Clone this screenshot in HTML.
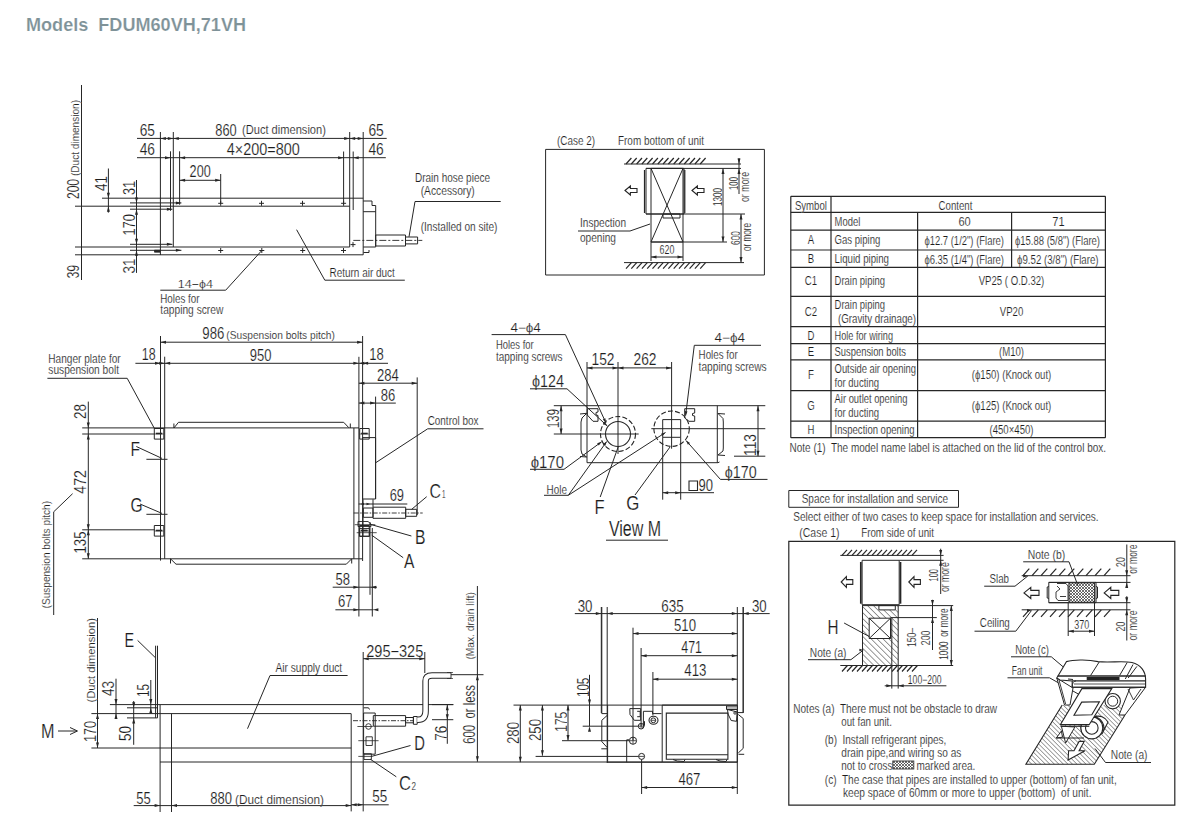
<!DOCTYPE html>
<html><head><meta charset="utf-8"><style>
html,body{margin:0;padding:0;background:#fff;}
body{width:1200px;height:829px;overflow:hidden;}
svg{display:block;font-family:"Liberation Sans",sans-serif;}
text{white-space:pre;}
</style></head><body>
<svg width="1200" height="829" viewBox="0 0 1200 829">
<g fill="none" stroke="#262626" stroke-width="1" stroke-linecap="butt">
<text stroke="#fff" stroke-width="0.15" x="26" y="30.5" font-size="17.8" font-weight="bold" fill="#7e9298" textLength="220" lengthAdjust="spacingAndGlyphs">Models  FDUM60VH,71VH</text>
<line x1="81.5" y1="85" x2="81.5" y2="280"/>
<text stroke="#fff" stroke-width="0.15" transform="translate(78.5,199) rotate(-90)" font-size="16" textLength="20" lengthAdjust="spacingAndGlyphs" fill="#1e1e1e">200</text>
<text stroke="#fff" stroke-width="0.15" transform="translate(79,176) rotate(-90)" font-size="11.5" textLength="76" lengthAdjust="spacingAndGlyphs" fill="#1e1e1e">(Duct dimension)</text>
<text stroke="#fff" stroke-width="0.15" transform="translate(78.5,278.6) rotate(-90)" font-size="16" textLength="13.9" lengthAdjust="spacingAndGlyphs" fill="#1e1e1e">39</text>
<line x1="102" y1="198.2" x2="363.2" y2="198.2"/>
<line x1="75" y1="206.2" x2="349.7" y2="206.2"/>
<line x1="75" y1="247" x2="349.7" y2="247"/>
<line x1="75" y1="254.8" x2="363.2" y2="254.8"/>
<line x1="130" y1="202.9" x2="181.4" y2="202.9"/>
<line x1="130" y1="209.2" x2="172.4" y2="209.2"/>
<line x1="130" y1="244.3" x2="172.4" y2="244.3"/>
<line x1="130" y1="250.3" x2="181.4" y2="250.3"/>
<polygon points="181.4,202.9 175.9,201.4 175.9,204.4" fill="#262626" stroke="none"/>
<polygon points="172.4,209.2 166.9,207.7 166.9,210.7" fill="#262626" stroke="none"/>
<polygon points="172.4,244.3 166.9,242.8 166.9,245.8" fill="#262626" stroke="none"/>
<polygon points="181.4,250.3 175.9,248.8 175.9,251.8" fill="#262626" stroke="none"/>
<line x1="137" y1="138.4" x2="386.7" y2="138.4"/>
<polygon points="160.4,138.4 165.9,136.9 165.9,139.9" fill="#262626" stroke="none"/>
<polygon points="173.3,138.4 178.8,136.9 178.8,139.9" fill="#262626" stroke="none"/>
<polygon points="173.3,138.4 167.8,136.9 167.8,139.9" fill="#262626" stroke="none"/>
<polygon points="349.7,138.4 344.2,136.9 344.2,139.9" fill="#262626" stroke="none"/>
<polygon points="349.7,138.4 355.2,136.9 355.2,139.9" fill="#262626" stroke="none"/>
<polygon points="363.2,138.4 357.7,136.9 357.7,139.9" fill="#262626" stroke="none"/>
<line x1="137" y1="157.7" x2="385.8" y2="157.7"/>
<polygon points="170.5,157.7 165,156.2 165,159.2" fill="#262626" stroke="none"/>
<polygon points="179.6,157.7 185.1,156.2 185.1,159.2" fill="#262626" stroke="none"/>
<polygon points="343.6,157.7 338.1,156.2 338.1,159.2" fill="#262626" stroke="none"/>
<polygon points="353.2,157.7 358.7,156.2 358.7,159.2" fill="#262626" stroke="none"/>
<line x1="179.6" y1="180.3" x2="220.7" y2="180.3"/>
<polygon points="179.6,180.3 185.1,178.8 185.1,181.8" fill="#262626" stroke="none"/>
<polygon points="220.7,180.3 215.2,178.8 215.2,181.8" fill="#262626" stroke="none"/>
<line x1="108.4" y1="168.5" x2="108.4" y2="212.6"/>
<polygon points="108.4,198.2 106.9,192.7 109.9,192.7" fill="#262626" stroke="none"/>
<polygon points="108.4,206.2 106.9,211.7 109.9,211.7" fill="#262626" stroke="none"/>
<line x1="136.5" y1="180" x2="136.5" y2="272.9"/>
<polygon points="136.5,202.9 135,197.4 138,197.4" fill="#262626" stroke="none"/>
<polygon points="136.5,209.2 135,214.7 138,214.7" fill="#262626" stroke="none"/>
<polygon points="136.5,244.3 135,238.8 138,238.8" fill="#262626" stroke="none"/>
<polygon points="136.5,250.3 135,255.8 138,255.8" fill="#262626" stroke="none"/>
<line x1="160.4" y1="132" x2="160.4" y2="255"/>
<line x1="173.3" y1="132" x2="173.3" y2="247"/>
<line x1="170.5" y1="151.3" x2="170.5" y2="210.8"/>
<line x1="179.6" y1="151.3" x2="179.6" y2="204.7"/>
<line x1="220.7" y1="174" x2="220.7" y2="203.3"/>
<line x1="343.6" y1="151.5" x2="343.6" y2="204.6"/>
<line x1="349.7" y1="132" x2="349.7" y2="247"/>
<line x1="353.2" y1="151.5" x2="353.2" y2="210"/>
<line x1="363.2" y1="132" x2="363.2" y2="254.8"/>
<line x1="218.2" y1="203.3" x2="223.2" y2="203.3"/>
<line x1="220.7" y1="200.8" x2="220.7" y2="205.8"/>
<line x1="259" y1="203.3" x2="264" y2="203.3"/>
<line x1="261.5" y1="200.8" x2="261.5" y2="205.8"/>
<line x1="300" y1="203.3" x2="305" y2="203.3"/>
<line x1="302.5" y1="200.8" x2="302.5" y2="205.8"/>
<line x1="341.1" y1="203.3" x2="346.1" y2="203.3"/>
<line x1="343.6" y1="200.8" x2="343.6" y2="205.8"/>
<line x1="218.2" y1="250.5" x2="223.2" y2="250.5"/>
<line x1="220.7" y1="248" x2="220.7" y2="253"/>
<line x1="259.3" y1="250.5" x2="264.3" y2="250.5"/>
<line x1="261.8" y1="248" x2="261.8" y2="253"/>
<line x1="300.2" y1="250.5" x2="305.2" y2="250.5"/>
<line x1="302.7" y1="248" x2="302.7" y2="253"/>
<line x1="341" y1="250.5" x2="346" y2="250.5"/>
<line x1="343.5" y1="248" x2="343.5" y2="253"/>
<line x1="350.5" y1="244.6" x2="355.5" y2="244.6"/>
<line x1="353" y1="242.1" x2="353" y2="247.1"/>
<polygon points="154.5,250.2 160,250.2 160,252.2 154.5,252.2" stroke-width="0.8" fill="#262626"/>
<polyline points="363.2,201 372,201 372,205.5 375.7,205.5 375.7,247 363.2,247"/>
<line x1="363.2" y1="211.7" x2="375.7" y2="211.7"/>
<polygon points="375.7,235 405.5,235 405.5,246 375.7,246"/>
<polygon points="405.5,237 417.6,237 417.6,243.9 405.5,243.9"/>
<line x1="353.3" y1="240.4" x2="422.3" y2="240.4" stroke-width="0.9" stroke-dasharray="7,2,2,2"/>
<polyline points="363.5,252.5 369,252.5 369,250"/>
<polyline points="409,236.8 415,201.5 500.7,201.5"/>
<text stroke="#fff" stroke-width="0.15" x="415" y="182" font-size="12" textLength="75" lengthAdjust="spacingAndGlyphs" fill="#1e1e1e">Drain hose piece</text>
<text stroke="#fff" stroke-width="0.15" x="420.7" y="195.3" font-size="12" textLength="54.1" lengthAdjust="spacingAndGlyphs" fill="#1e1e1e">(Accessory)</text>
<text stroke="#fff" stroke-width="0.15" x="420.7" y="231.3" font-size="12" textLength="76.8" lengthAdjust="spacingAndGlyphs" fill="#1e1e1e">(Installed on site)</text>
<polyline points="296.6,229.7 324.8,280.2 404.8,280.2"/>
<text stroke="#fff" stroke-width="0.15" x="329.5" y="276.7" font-size="12" textLength="65.3" lengthAdjust="spacingAndGlyphs" fill="#1e1e1e">Return air duct</text>
<polyline points="160.3,290.2 225.7,290.2 261.8,250.5"/>
<text stroke="#fff" stroke-width="0.15" x="177.8" y="287.9" font-size="11.5" textLength="35" lengthAdjust="spacingAndGlyphs" fill="#1e1e1e">14−ϕ4</text>
<text stroke="#fff" stroke-width="0.15" x="160.3" y="302.8" font-size="12" textLength="39.2" lengthAdjust="spacingAndGlyphs" fill="#1e1e1e">Holes for</text>
<text stroke="#fff" stroke-width="0.15" x="160.3" y="314" font-size="12" textLength="63" lengthAdjust="spacingAndGlyphs" fill="#1e1e1e">tapping screw</text>
<text stroke="#fff" stroke-width="0.15" x="139.7" y="135.6" font-size="16" textLength="15.3" lengthAdjust="spacingAndGlyphs" fill="#1e1e1e">65</text>
<text stroke="#fff" stroke-width="0.15" x="139.7" y="155.3" font-size="16" textLength="15.3" lengthAdjust="spacingAndGlyphs" fill="#1e1e1e">46</text>
<text stroke="#fff" stroke-width="0.15" x="215.3" y="135.5" font-size="16" textLength="21.4" lengthAdjust="spacingAndGlyphs" fill="#1e1e1e">860</text>
<text stroke="#fff" stroke-width="0.15" x="242" y="134.3" font-size="12.5" textLength="83.9" lengthAdjust="spacingAndGlyphs" fill="#1e1e1e">(Duct dimension)</text>
<text stroke="#fff" stroke-width="0.15" x="226.7" y="155.3" font-size="16" textLength="73.1" lengthAdjust="spacingAndGlyphs" fill="#1e1e1e">4×200=800</text>
<text stroke="#fff" stroke-width="0.15" x="189.6" y="177.3" font-size="16" textLength="21.1" lengthAdjust="spacingAndGlyphs" fill="#1e1e1e">200</text>
<text stroke="#fff" stroke-width="0.15" x="368.4" y="135.5" font-size="16" textLength="15.4" lengthAdjust="spacingAndGlyphs" fill="#1e1e1e">65</text>
<text stroke="#fff" stroke-width="0.15" x="368.4" y="154.8" font-size="16" textLength="15.4" lengthAdjust="spacingAndGlyphs" fill="#1e1e1e">46</text>
<text stroke="#fff" stroke-width="0.15" transform="translate(106.5,191) rotate(-90)" font-size="16" textLength="15" lengthAdjust="spacingAndGlyphs" fill="#1e1e1e">41</text>
<text stroke="#fff" stroke-width="0.15" transform="translate(134.5,195) rotate(-90)" font-size="16" textLength="14" lengthAdjust="spacingAndGlyphs" fill="#1e1e1e">31</text>
<text stroke="#fff" stroke-width="0.15" transform="translate(134.5,235.6) rotate(-90)" font-size="16" textLength="21.6" lengthAdjust="spacingAndGlyphs" fill="#1e1e1e">170</text>
<text stroke="#fff" stroke-width="0.15" transform="translate(134.5,273.5) rotate(-90)" font-size="16" textLength="15" lengthAdjust="spacingAndGlyphs" fill="#1e1e1e">31</text>
<line x1="160.5" y1="336" x2="160.5" y2="560.6"/>
<line x1="362.6" y1="336" x2="362.6" y2="561"/>
<line x1="160.5" y1="342.2" x2="362.6" y2="342.2"/>
<polygon points="160.5,342.2 166,340.7 166,343.7" fill="#262626" stroke="none"/>
<polygon points="362.6,342.2 357.1,340.7 357.1,343.7" fill="#262626" stroke="none"/>
<text stroke="#fff" stroke-width="0.15" x="202.3" y="339.3" font-size="16" textLength="22" lengthAdjust="spacingAndGlyphs" fill="#1e1e1e">986</text>
<text stroke="#fff" stroke-width="0.15" x="226.3" y="338.8" font-size="11.5" textLength="108.6" lengthAdjust="spacingAndGlyphs" fill="#1e1e1e">(Suspension bolts pitch)</text>
<line x1="164.7" y1="356.7" x2="164.7" y2="558.8"/>
<line x1="358.9" y1="356.8" x2="358.9" y2="616.5"/>
<line x1="135.4" y1="363.3" x2="388" y2="363.3"/>
<polygon points="160.5,363.3 155,361.8 155,364.8" fill="#262626" stroke="none"/>
<polygon points="164.7,363.3 170.2,361.8 170.2,364.8" fill="#262626" stroke="none"/>
<polygon points="164.7,363.3 159.2,361.8 159.2,364.8" fill="#262626" stroke="none"/>
<polygon points="358.9,363.3 364.4,361.8 364.4,364.8" fill="#262626" stroke="none"/>
<polygon points="358.9,363.3 353.4,361.8 353.4,364.8" fill="#262626" stroke="none"/>
<polygon points="362.6,363.3 368.1,361.8 368.1,364.8" fill="#262626" stroke="none"/>
<text stroke="#fff" stroke-width="0.15" x="141.8" y="360.3" font-size="16" textLength="13.8" lengthAdjust="spacingAndGlyphs" fill="#1e1e1e">18</text>
<text stroke="#fff" stroke-width="0.15" x="249.8" y="360.5" font-size="16" textLength="21.7" lengthAdjust="spacingAndGlyphs" fill="#1e1e1e">950</text>
<text stroke="#fff" stroke-width="0.15" x="369.2" y="360.3" font-size="16" textLength="14.5" lengthAdjust="spacingAndGlyphs" fill="#1e1e1e">18</text>
<line x1="358.9" y1="383.2" x2="417.2" y2="383.2"/>
<polygon points="358.9,383.2 364.4,381.7 364.4,384.7" fill="#262626" stroke="none"/>
<polygon points="417.2,383.2 411.7,381.7 411.7,384.7" fill="#262626" stroke="none"/>
<text stroke="#fff" stroke-width="0.15" x="377" y="381" font-size="16" textLength="21.8" lengthAdjust="spacingAndGlyphs" fill="#1e1e1e">284</text>
<line x1="358.9" y1="403.1" x2="395.8" y2="403.1"/>
<polygon points="358.9,403.1 364.4,401.6 364.4,404.6" fill="#262626" stroke="none"/>
<polygon points="375.6,403.1 370.1,401.6 370.1,404.6" fill="#262626" stroke="none"/>
<text stroke="#fff" stroke-width="0.15" x="380.7" y="401.3" font-size="16" textLength="14.5" lengthAdjust="spacingAndGlyphs" fill="#1e1e1e">86</text>
<line x1="417.2" y1="377.4" x2="417.2" y2="515"/>
<line x1="375.6" y1="396.6" x2="375.6" y2="499"/>
<line x1="82.2" y1="427.9" x2="359" y2="427.9"/>
<line x1="82.2" y1="434" x2="154.7" y2="434"/>
<line x1="82.2" y1="529.8" x2="154.7" y2="529.8"/>
<line x1="82.2" y1="558.8" x2="362.5" y2="558.8"/>
<line x1="353.9" y1="428" x2="353.9" y2="558.8"/>
<polyline points="173.9,428 178.5,422.3 343.7,422.3 348.8,427.7"/>
<line x1="173.9" y1="423.5" x2="173.9" y2="428"/>
<line x1="350.3" y1="423.5" x2="350.3" y2="428"/>
<polyline points="170.5,558.8 176,564.2 346.3,564.2 351.7,558.8"/>
<line x1="170.5" y1="558.8" x2="170.5" y2="563.5"/>
<line x1="351.7" y1="558.8" x2="351.7" y2="563.5"/>
<line x1="88.3" y1="401.6" x2="88.3" y2="558.8"/>
<polygon points="88.3,427.9 86.8,422.4 89.8,422.4" fill="#262626" stroke="none"/>
<polygon points="88.3,434 86.8,439.5 89.8,439.5" fill="#262626" stroke="none"/>
<polygon points="88.3,529.8 86.8,524.3 89.8,524.3" fill="#262626" stroke="none"/>
<polygon points="88.3,529.8 86.8,535.3 89.8,535.3" fill="#262626" stroke="none"/>
<polygon points="88.3,558.8 86.8,553.3 89.8,553.3" fill="#262626" stroke="none"/>
<text stroke="#fff" stroke-width="0.15" transform="translate(86,419) rotate(-90)" font-size="16" textLength="15" lengthAdjust="spacingAndGlyphs" fill="#1e1e1e">28</text>
<text stroke="#fff" stroke-width="0.15" transform="translate(86,493.7) rotate(-90)" font-size="16" textLength="23.7" lengthAdjust="spacingAndGlyphs" fill="#1e1e1e">472</text>
<text stroke="#fff" stroke-width="0.15" transform="translate(86,553.4) rotate(-90)" font-size="16" textLength="21.8" lengthAdjust="spacingAndGlyphs" fill="#1e1e1e">135</text>
<text stroke="#fff" stroke-width="0.15" transform="translate(49.5,608.4) rotate(-90)" font-size="11.5" textLength="107.4" lengthAdjust="spacingAndGlyphs" fill="#1e1e1e">(Suspension bolts pitch)</text>
<polyline points="72.6,493.7 53.7,511.8 53.7,615"/>
<polygon points="154.3,428.5 163.8,428.5 163.8,439.1 154.3,439.1"/>
<line x1="155.8" y1="433.5" x2="162.3" y2="433.5" stroke-width="1.6"/>
<line x1="154.3" y1="434" x2="163.8" y2="434" stroke-width="0.6"/>
<polygon points="154.3,525.5 163.8,525.5 163.8,536.1 154.3,536.1"/>
<line x1="155.8" y1="530.5" x2="162.3" y2="530.5" stroke-width="1.6"/>
<line x1="154.3" y1="531" x2="163.8" y2="531" stroke-width="0.6"/>
<polygon points="359.7,428.5 369.2,428.5 369.2,439.1 359.7,439.1"/>
<line x1="361.2" y1="433.5" x2="367.7" y2="433.5" stroke-width="1.6"/>
<line x1="359.7" y1="434" x2="369.2" y2="434" stroke-width="0.6"/>
<polygon points="359.7,525.5 369.2,525.5 369.2,536.1 359.7,536.1"/>
<line x1="361.2" y1="530.5" x2="367.7" y2="530.5" stroke-width="1.6"/>
<line x1="359.7" y1="531" x2="369.2" y2="531" stroke-width="0.6"/>
<polyline points="47.4,378.3 127.2,378.3 154.7,429"/>
<text stroke="#fff" stroke-width="0.15" x="48.3" y="362.5" font-size="12" textLength="72.4" lengthAdjust="spacingAndGlyphs" fill="#1e1e1e">Hanger plate for</text>
<text stroke="#fff" stroke-width="0.15" x="48.3" y="374" font-size="12" textLength="70.7" lengthAdjust="spacingAndGlyphs" fill="#1e1e1e">suspension bolt</text>
<text stroke="#fff" stroke-width="0.15" x="130.4" y="455.7" font-size="20" textLength="9.4" lengthAdjust="spacingAndGlyphs" fill="#1e1e1e">F</text>
<polyline points="136.3,446.5 162,458.4"/>
<line x1="146.4" y1="459.3" x2="167.5" y2="459.3"/>
<text stroke="#fff" stroke-width="0.15" x="130.4" y="511.7" font-size="20" textLength="12.1" lengthAdjust="spacingAndGlyphs" fill="#1e1e1e">G</text>
<polyline points="140,504 162,513.4"/>
<line x1="146.4" y1="514.3" x2="167.5" y2="514.3"/>
<polygon points="362.6,437.6 375.6,437.6 375.6,499 362.6,499"/>
<polyline points="375.6,462.8 427.7,428.8 483.5,428.8"/>
<text stroke="#fff" stroke-width="0.15" x="427.7" y="425.2" font-size="12" textLength="50.7" lengthAdjust="spacingAndGlyphs" fill="#1e1e1e">Control box</text>
<text stroke="#fff" stroke-width="0.15" x="389.7" y="500.7" font-size="16" textLength="14.3" lengthAdjust="spacingAndGlyphs" fill="#1e1e1e">69</text>
<line x1="358.7" y1="504" x2="407.3" y2="504"/>
<polygon points="360.5,504 364,502.8 364,505.2" fill="#262626" stroke="none"/>
<polygon points="370,504 366.5,502.8 366.5,505.2" fill="#262626" stroke="none"/>
<polygon points="373,507.2 405.7,507.2 405.7,518.3 373,518.3"/>
<polygon points="405.7,509.3 416.7,509.3 416.7,516.3 405.7,516.3"/>
<polygon points="363.3,508 373,508 373,517.3 363.3,517.3"/>
<line x1="353.7" y1="513" x2="422.7" y2="513" stroke-width="0.9" stroke-dasharray="5,1.5,1.5,1.5"/>
<line x1="363" y1="499.3" x2="363" y2="536"/>
<line x1="373" y1="499.3" x2="373" y2="507.2"/>
<polygon points="358,521.5 368,521.5 371,524 371,526.5 358,526.5" stroke-width="0.9"/>
<line x1="354.7" y1="524.7" x2="375.3" y2="524.7" stroke-width="0.8"/>
<polygon points="359.5,528.5 369.5,528.5 369.5,536.5 359.5,536.5" stroke-width="0.9"/>
<line x1="356.7" y1="532.7" x2="376.7" y2="532.7" stroke-width="0.8"/>
<line x1="361" y1="530.5" x2="367" y2="530.5" stroke-width="1.3"/>
<text stroke="#fff" stroke-width="0.15" x="429.5" y="498" font-size="20" textLength="11.5" lengthAdjust="spacingAndGlyphs" fill="#1e1e1e">C</text>
<text stroke="#fff" stroke-width="0.15" x="442" y="497.5" font-size="10" textLength="3.5" lengthAdjust="spacingAndGlyphs" fill="#1e1e1e">1</text>
<line x1="426.7" y1="496.7" x2="411.7" y2="509.3"/>
<line x1="411.4" y1="536" x2="369.8" y2="524.2"/>
<text stroke="#fff" stroke-width="0.15" x="415" y="544.1" font-size="20" textLength="10.5" lengthAdjust="spacingAndGlyphs" fill="#1e1e1e">B</text>
<line x1="403.2" y1="557.7" x2="371.6" y2="535.1"/>
<text stroke="#fff" stroke-width="0.15" x="404.1" y="567.6" font-size="20" textLength="10.4" lengthAdjust="spacingAndGlyphs" fill="#1e1e1e">A</text>
<line x1="370" y1="522" x2="370" y2="594.8"/>
<line x1="372.3" y1="528" x2="372.3" y2="616.5"/>
<text stroke="#fff" stroke-width="0.15" x="335.4" y="584.8" font-size="16" textLength="14.5" lengthAdjust="spacingAndGlyphs" fill="#1e1e1e">58</text>
<line x1="332.7" y1="587.2" x2="377" y2="587.2"/>
<polygon points="358.9,587.2 353.4,585.7 353.4,588.7" fill="#262626" stroke="none"/>
<polygon points="370.7,587.2 376.2,585.7 376.2,588.7" fill="#262626" stroke="none"/>
<text stroke="#fff" stroke-width="0.15" x="338" y="606.5" font-size="16" textLength="14.6" lengthAdjust="spacingAndGlyphs" fill="#1e1e1e">67</text>
<line x1="335.4" y1="609.8" x2="373.4" y2="609.8"/>
<polygon points="358.9,609.8 353.4,608.3 353.4,611.3" fill="#262626" stroke="none"/>
<polygon points="372.9,609.8 378.4,608.3 378.4,611.3" fill="#262626" stroke="none"/>
<line x1="97.5" y1="618" x2="97.5" y2="748"/>
<polygon points="97.5,713.6 96,719.1 99,719.1" fill="#262626" stroke="none"/>
<polygon points="97.5,748 96,742.5 99,742.5" fill="#262626" stroke="none"/>
<text stroke="#fff" stroke-width="0.15" transform="translate(95,702.5) rotate(-90)" font-size="11.5" textLength="84.5" lengthAdjust="spacingAndGlyphs" fill="#1e1e1e">(Duct dimension)</text>
<text stroke="#fff" stroke-width="0.15" transform="translate(96,742) rotate(-90)" font-size="16" textLength="21" lengthAdjust="spacingAndGlyphs" fill="#1e1e1e">170</text>
<line x1="109.9" y1="704.6" x2="453.3" y2="704.6"/>
<line x1="91.4" y1="713.6" x2="351.2" y2="713.6"/>
<line x1="91.4" y1="748" x2="351.2" y2="748"/>
<line x1="160" y1="762" x2="737.3" y2="762"/>
<line x1="127" y1="707.8" x2="157.5" y2="707.8"/>
<line x1="127" y1="717.9" x2="157.5" y2="717.9"/>
<line x1="116" y1="678.7" x2="116" y2="718.4"/>
<polygon points="116,704.6 114.5,699.1 117.5,699.1" fill="#262626" stroke="none"/>
<polygon points="116,713.6 114.5,719.1 117.5,719.1" fill="#262626" stroke="none"/>
<text stroke="#fff" stroke-width="0.15" transform="translate(113.5,696) rotate(-90)" font-size="16" textLength="15" lengthAdjust="spacingAndGlyphs" fill="#1e1e1e">43</text>
<line x1="150.8" y1="680" x2="150.8" y2="713"/>
<polygon points="150.8,704.6 149.3,699.1 152.3,699.1" fill="#262626" stroke="none"/>
<polygon points="150.8,707.8 149.3,713.3 152.3,713.3" fill="#262626" stroke="none"/>
<text stroke="#fff" stroke-width="0.15" transform="translate(148.5,697) rotate(-90)" font-size="16" textLength="13" lengthAdjust="spacingAndGlyphs" fill="#1e1e1e">15</text>
<line x1="133.7" y1="701" x2="133.7" y2="744.8"/>
<polygon points="133.7,707.8 132.2,702.3 135.2,702.3" fill="#262626" stroke="none"/>
<polygon points="133.7,717.9 132.2,723.4 135.2,723.4" fill="#262626" stroke="none"/>
<text stroke="#fff" stroke-width="0.15" transform="translate(130.5,741) rotate(-90)" font-size="16" textLength="15" lengthAdjust="spacingAndGlyphs" fill="#1e1e1e">50</text>
<line x1="155.6" y1="645.7" x2="155.6" y2="717.9"/>
<line x1="157.5" y1="645.7" x2="157.5" y2="717.9"/>
<text stroke="#fff" stroke-width="0.15" x="124.4" y="647" font-size="20" textLength="9.6" lengthAdjust="spacingAndGlyphs" fill="#1e1e1e">E</text>
<line x1="137.6" y1="640.4" x2="155.3" y2="657.6"/>
<text stroke="#fff" stroke-width="0.15" x="41" y="738.2" font-size="20" textLength="13.5" lengthAdjust="spacingAndGlyphs" fill="#1e1e1e">M</text>
<line x1="58" y1="731" x2="77" y2="731"/>
<polyline points="70,727.5 77.5,731 70,734.5"/>
<line x1="160.1" y1="705" x2="160.1" y2="812"/>
<line x1="171.5" y1="713.6" x2="171.5" y2="812"/>
<line x1="133.7" y1="805.6" x2="351.2" y2="805.6"/>
<polygon points="160.1,805.6 154.6,804.1 154.6,807.1" fill="#262626" stroke="none"/>
<polygon points="171.5,805.6 177,804.1 177,807.1" fill="#262626" stroke="none"/>
<polygon points="351.2,805.6 345.7,804.1 345.7,807.1" fill="#262626" stroke="none"/>
<text stroke="#fff" stroke-width="0.15" x="136.3" y="804.3" font-size="16" textLength="14.5" lengthAdjust="spacingAndGlyphs" fill="#1e1e1e">55</text>
<text stroke="#fff" stroke-width="0.15" x="210.3" y="804.3" font-size="16" textLength="21.7" lengthAdjust="spacingAndGlyphs" fill="#1e1e1e">880</text>
<text stroke="#fff" stroke-width="0.15" x="235" y="803.8" font-size="12.5" textLength="89" lengthAdjust="spacingAndGlyphs" fill="#1e1e1e">(Duct dimension)</text>
<line x1="351.2" y1="713.7" x2="351.2" y2="811.4"/>
<line x1="363.2" y1="652" x2="363.2" y2="811.4"/>
<line x1="351.2" y1="804.8" x2="388.7" y2="804.8"/>
<polygon points="351.2,804.8 356.7,803.3 356.7,806.3" fill="#262626" stroke="none"/>
<polygon points="363.2,804.8 357.7,803.3 357.7,806.3" fill="#262626" stroke="none"/>
<text stroke="#fff" stroke-width="0.15" x="372.2" y="802.4" font-size="16" textLength="15" lengthAdjust="spacingAndGlyphs" fill="#1e1e1e">55</text>
<text stroke="#fff" stroke-width="0.15" x="366.2" y="656.6" font-size="16" textLength="57.1" lengthAdjust="spacingAndGlyphs" fill="#1e1e1e">295−325</text>
<line x1="363.2" y1="658.7" x2="424.8" y2="658.7"/>
<polygon points="363.2,658.7 368.7,657.2 368.7,660.2" fill="#262626" stroke="none"/>
<polygon points="424.8,658.7 419.3,657.2 419.3,660.2" fill="#262626" stroke="none"/>
<line x1="424.8" y1="652" x2="424.8" y2="673"/>
<polygon points="373.3,715.6 405.6,715.6 405.6,726.2 373.3,726.2"/>
<polygon points="405.6,717.5 413.4,717.5 413.4,722.8 405.6,722.8"/>
<polygon points="413.4,716.5 417.2,716.5 417.2,724.3 413.4,724.3"/>
<line x1="353" y1="720.7" x2="413" y2="720.7" stroke-width="0.9" stroke-dasharray="5,1.5,1.5,1.5"/>
<path d="M417.2,719.8 L418,719.8 Q425.6,719.8 425.6,711 L425.6,681 Q425.6,675.5 432,675.5 L451,675.5" stroke-width="6.5"/>
<path d="M417.2,719.8 L418,719.8 Q425.6,719.8 425.6,711 L425.6,681 Q425.6,675.5 432,675.5 L451,675.5" stroke-width="4.5" stroke="#fff"/>
<line x1="451" y1="672.3" x2="451" y2="678.7" stroke-width="0.9"/>
<line x1="447" y1="672.5" x2="453" y2="672.5" stroke-width="0.7"/>
<line x1="447" y1="678.5" x2="453" y2="678.5" stroke-width="0.7"/>
<line x1="432" y1="704.6" x2="453.3" y2="704.6"/>
<line x1="432" y1="719.7" x2="453.3" y2="719.7"/>
<line x1="447.3" y1="704.7" x2="447.3" y2="743.8"/>
<polygon points="447.3,704.7 445.8,710.2 448.8,710.2" fill="#262626" stroke="none"/>
<polygon points="447.3,719.7 445.8,714.2 448.8,714.2" fill="#262626" stroke="none"/>
<text stroke="#fff" stroke-width="0.15" transform="translate(447,740.8) rotate(-90)" font-size="16" textLength="15.1" lengthAdjust="spacingAndGlyphs" fill="#1e1e1e">76</text>
<line x1="451" y1="674.7" x2="483.5" y2="674.7"/>
<line x1="477.4" y1="586" x2="477.4" y2="761.8"/>
<polygon points="477.4,674.7 475.9,680.2 478.9,680.2" fill="#262626" stroke="none"/>
<polygon points="477.4,761.8 475.9,756.3 478.9,756.3" fill="#262626" stroke="none"/>
<text stroke="#fff" stroke-width="0.15" transform="translate(474.5,743.8) rotate(-90)" font-size="16" textLength="58.8" lengthAdjust="spacingAndGlyphs" fill="#1e1e1e">600  or less</text>
<text stroke="#fff" stroke-width="0.15" transform="translate(473.5,659.6) rotate(-90)" font-size="11.5" textLength="67.6" lengthAdjust="spacingAndGlyphs" fill="#1e1e1e">(Max. drain lift)</text>
<text stroke="#fff" stroke-width="0.15" x="275.5" y="671.6" font-size="12" textLength="66.7" lengthAdjust="spacingAndGlyphs" fill="#1e1e1e">Air supply duct</text>
<polyline points="247.5,728.7 270,675.5 347.6,675.5"/>
<text stroke="#fff" stroke-width="0.15" x="414.3" y="749.8" font-size="20" textLength="10.7" lengthAdjust="spacingAndGlyphs" fill="#1e1e1e">D</text>
<line x1="410.5" y1="745.5" x2="370.9" y2="756.6"/>
<text stroke="#fff" stroke-width="0.15" x="399" y="790.3" font-size="20" textLength="12" lengthAdjust="spacingAndGlyphs" fill="#1e1e1e">C</text>
<text stroke="#fff" stroke-width="0.15" x="411.5" y="790.3" font-size="10" textLength="4.5" lengthAdjust="spacingAndGlyphs" fill="#1e1e1e">2</text>
<line x1="396.3" y1="776.8" x2="370" y2="759"/>
<polygon points="363.6,713 375.2,713 375.2,754.2 363.6,754.2"/>
<polyline points="363.6,707.8 368.5,707.8 369.5,709.5"/>
<circle cx="368.5" cy="726.5" r="2.8" stroke-width="0.9"/>
<line x1="357.4" y1="726.5" x2="372.8" y2="726.5" stroke-width="0.8"/>
<polygon points="366,736.8 372.3,736.8 372.3,745.5 366,745.5" stroke-width="0.9"/>
<line x1="358.3" y1="740.7" x2="378.6" y2="740.7" stroke-width="0.8"/>
<polygon points="364,753.7 371.4,753.7 371.4,759.5 364,759.5" stroke-width="0.9"/>
<line x1="358.3" y1="756.4" x2="371.8" y2="756.4" stroke-width="0.8"/>
<line x1="574.8" y1="613.6" x2="769.7" y2="613.6"/>
<polygon points="601.3,613.6 595.8,612.1 595.8,615.1" fill="#262626" stroke="none"/>
<polygon points="607.2,613.6 612.7,612.1 612.7,615.1" fill="#262626" stroke="none"/>
<polygon points="737.3,613.6 731.8,612.1 731.8,615.1" fill="#262626" stroke="none"/>
<polygon points="743.2,613.6 748.7,612.1 748.7,615.1" fill="#262626" stroke="none"/>
<text stroke="#fff" stroke-width="0.15" x="577.7" y="611.5" font-size="16" textLength="14.7" lengthAdjust="spacingAndGlyphs" fill="#1e1e1e">30</text>
<text stroke="#fff" stroke-width="0.15" x="661.3" y="611.5" font-size="16" textLength="22.4" lengthAdjust="spacingAndGlyphs" fill="#1e1e1e">635</text>
<text stroke="#fff" stroke-width="0.15" x="752" y="611.5" font-size="16" textLength="14.7" lengthAdjust="spacingAndGlyphs" fill="#1e1e1e">30</text>
<line x1="601.3" y1="607" x2="601.3" y2="713"/>
<line x1="607.2" y1="607" x2="607.2" y2="763"/>
<line x1="737.3" y1="607" x2="737.3" y2="794"/>
<line x1="743.2" y1="607" x2="743.2" y2="713"/>
<text stroke="#fff" stroke-width="0.15" x="674" y="630.6" font-size="16" textLength="22" lengthAdjust="spacingAndGlyphs" fill="#1e1e1e">510</text>
<line x1="633" y1="633.6" x2="737.3" y2="633.6"/>
<polygon points="633,633.6 638.5,632.1 638.5,635.1" fill="#262626" stroke="none"/>
<polygon points="737.3,633.6 731.8,632.1 731.8,635.1" fill="#262626" stroke="none"/>
<text stroke="#fff" stroke-width="0.15" x="681.3" y="652.7" font-size="16" textLength="20.7" lengthAdjust="spacingAndGlyphs" fill="#1e1e1e">471</text>
<line x1="641.1" y1="655.7" x2="737.3" y2="655.7"/>
<polygon points="641.1,655.7 646.6,654.2 646.6,657.2" fill="#262626" stroke="none"/>
<polygon points="737.3,655.7 731.8,654.2 731.8,657.2" fill="#262626" stroke="none"/>
<text stroke="#fff" stroke-width="0.15" x="684.3" y="676.3" font-size="16" textLength="22.1" lengthAdjust="spacingAndGlyphs" fill="#1e1e1e">413</text>
<line x1="652.9" y1="679.2" x2="737.3" y2="679.2"/>
<polygon points="652.9,679.2 658.4,677.7 658.4,680.7" fill="#262626" stroke="none"/>
<polygon points="737.3,679.2 731.8,677.7 731.8,680.7" fill="#262626" stroke="none"/>
<line x1="513.5" y1="705.1" x2="737.3" y2="705.1"/>
<line x1="520.3" y1="705.1" x2="520.3" y2="762.2"/>
<polygon points="520.3,705.1 518.8,710.6 521.8,710.6" fill="#262626" stroke="none"/>
<polygon points="520.3,762.2 518.8,756.7 521.8,756.7" fill="#262626" stroke="none"/>
<text stroke="#fff" stroke-width="0.15" transform="translate(519,744) rotate(-90)" font-size="16" textLength="22" lengthAdjust="spacingAndGlyphs" fill="#1e1e1e">280</text>
<line x1="542.4" y1="705.1" x2="542.4" y2="755.7"/>
<polygon points="542.4,705.1 540.9,710.6 543.9,710.6" fill="#262626" stroke="none"/>
<polygon points="542.4,755.7 540.9,750.2 543.9,750.2" fill="#262626" stroke="none"/>
<text stroke="#fff" stroke-width="0.15" transform="translate(540.5,741) rotate(-90)" font-size="16" textLength="22" lengthAdjust="spacingAndGlyphs" fill="#1e1e1e">250</text>
<line x1="568" y1="705.1" x2="568" y2="740.4"/>
<polygon points="568,705.1 566.5,710.6 569.5,710.6" fill="#262626" stroke="none"/>
<polygon points="568,740.4 566.5,734.9 569.5,734.9" fill="#262626" stroke="none"/>
<text stroke="#fff" stroke-width="0.15" transform="translate(567,732) rotate(-90)" font-size="16" textLength="20.4" lengthAdjust="spacingAndGlyphs" fill="#1e1e1e">175</text>
<line x1="589.5" y1="674.8" x2="589.5" y2="726.3"/>
<polygon points="589.5,705.1 588,699.6 591,699.6" fill="#262626" stroke="none"/>
<polygon points="589.5,726.3 588,731.8 591,731.8" fill="#262626" stroke="none"/>
<text stroke="#fff" stroke-width="0.15" transform="translate(588.5,697) rotate(-90)" font-size="16" textLength="19.3" lengthAdjust="spacingAndGlyphs" fill="#1e1e1e">105</text>
<polygon points="662.2,705.1 737.3,705.1 737.3,762.2 662.2,762.2"/>
<polygon points="666.3,713.1 727.9,713.1 727.9,759.3 666.3,759.3" stroke-width="1.1"/>
<line x1="666.3" y1="754.7" x2="727.9" y2="754.7" stroke-width="1.1"/>
<path d="M673,759.5 Q676,761.5 684,761.5 L685,759.5 M716,759.5 Q719,761.5 726,761.5 L727,759.5" stroke-width="1.0"/>
<polygon points="726.5,705.9 737.4,705.9 737.4,709.5 726.5,709.5" fill="#bbb"/>
<polygon points="727.5,709.5 728,714 731.2,720.5 736.5,721.3 737.4,712"/>
<circle cx="735" cy="713" r="1.2" stroke-width="0.9"/>
<polyline points="737.4,712.6 743.2,712.6 743.2,607"/>
<polyline points="738.3,714.5 743.2,718.5 743.2,748.4 738.3,752.9"/>
<line x1="738.5" y1="754.3" x2="744.2" y2="754.3"/>
<polyline points="601.8,607 601.8,713.6 607.2,713.6"/>
<polyline points="607.2,715.4 601.8,720.3 601.8,741.6 607.2,747.5"/>
<line x1="601.3" y1="748.8" x2="607.2" y2="748.8"/>
<line x1="607.6" y1="705" x2="607.6" y2="762.2"/>
<line x1="607.2" y1="762.2" x2="662.2" y2="762.2"/>
<line x1="633" y1="627.7" x2="633" y2="740.2"/>
<line x1="641.1" y1="648" x2="641.1" y2="725.8"/>
<line x1="652.9" y1="672" x2="652.9" y2="715.4"/>
<polygon points="629.8,708.6 640.7,708.6 640.7,720.3 634.3,720.3 630,714.5"/>
<polyline points="637.2,711.3 640.2,711.3 640.2,716.7 637.2,716.7"/>
<polyline points="643.4,726 643.4,711.3 652.5,711.3 652.5,713.6 661.5,713.6"/>
<polyline points="644.5,721.2 644.5,725.5 642.5,728"/>
<path d="M649,720.3 A4.5,4 0 1 1 658,720.3 A4.5,4 0 1 1 649,720.3 Z" stroke-width="1.1"/>
<circle cx="653.3" cy="720.3" r="2.4" stroke-width="1.0"/>
<line x1="651" y1="720.3" x2="655.6" y2="720.3" stroke-width="0.8"/>
<circle cx="641.1" cy="726.2" r="2.8" stroke-width="1.0"/>
<line x1="639" y1="726.2" x2="643.2" y2="726.2" stroke-width="0.8"/>
<line x1="641.1" y1="724" x2="641.1" y2="728.4" stroke-width="0.8"/>
<circle cx="633" cy="740.7" r="3.6" stroke-width="1.0"/>
<line x1="630" y1="740.7" x2="636" y2="740.7" stroke-width="0.8"/>
<line x1="633" y1="737.5" x2="633" y2="744" stroke-width="0.8"/>
<circle cx="641.6" cy="756.4" r="3" stroke-width="1.0"/>
<line x1="639" y1="756.4" x2="644.2" y2="756.4" stroke-width="0.8"/>
<polyline points="626.7,762.2 626.7,739.8 629,739.8"/>
<line x1="582.7" y1="726.2" x2="638.5" y2="726.2"/>
<line x1="562" y1="740.7" x2="629.5" y2="740.7"/>
<line x1="535.6" y1="756.4" x2="638.6" y2="756.4"/>
<line x1="641.6" y1="759.4" x2="641.6" y2="794"/>
<text stroke="#fff" stroke-width="0.15" x="678.4" y="785.2" font-size="16" textLength="22.1" lengthAdjust="spacingAndGlyphs" fill="#1e1e1e">467</text>
<line x1="641.6" y1="787.5" x2="737.3" y2="787.5"/>
<polygon points="641.6,787.5 647.1,786 647.1,789" fill="#262626" stroke="none"/>
<polygon points="737.3,787.5 731.8,786 731.8,789" fill="#262626" stroke="none"/>
<line x1="553.8" y1="405.7" x2="765.3" y2="405.7"/>
<line x1="587" y1="462.7" x2="718" y2="462.7"/>
<line x1="587" y1="362" x2="587" y2="462.7"/>
<line x1="717.3" y1="405.7" x2="717.3" y2="462.7"/>
<line x1="553.8" y1="434" x2="638.7" y2="434"/>
<line x1="561.1" y1="405.7" x2="561.1" y2="434"/>
<polygon points="561.1,405.7 559.6,411.2 562.6,411.2" fill="#262626" stroke="none"/>
<polygon points="561.1,434 559.6,428.5 562.6,428.5" fill="#262626" stroke="none"/>
<text stroke="#fff" stroke-width="0.15" transform="translate(558.5,428) rotate(-90)" font-size="16" textLength="19" lengthAdjust="spacingAndGlyphs" fill="#1e1e1e">139</text>
<line x1="651.3" y1="428.7" x2="765.3" y2="428.7"/>
<line x1="758" y1="405.7" x2="758" y2="456.2"/>
<polygon points="758,405.7 756.5,411.2 759.5,411.2" fill="#262626" stroke="none"/>
<polygon points="758,456.2 756.5,450.7 759.5,450.7" fill="#262626" stroke="none"/>
<text stroke="#fff" stroke-width="0.15" transform="translate(755.5,456) rotate(-90)" font-size="16" textLength="22" lengthAdjust="spacingAndGlyphs" fill="#1e1e1e">113</text>
<line x1="734" y1="456.2" x2="765.3" y2="456.2"/>
<line x1="587" y1="367.9" x2="671.6" y2="367.9"/>
<polygon points="587,367.9 592.5,366.4 592.5,369.4" fill="#262626" stroke="none"/>
<polygon points="618,367.9 612.5,366.4 612.5,369.4" fill="#262626" stroke="none"/>
<polygon points="618,367.9 623.5,366.4 623.5,369.4" fill="#262626" stroke="none"/>
<polygon points="671.6,367.9 666.1,366.4 666.1,369.4" fill="#262626" stroke="none"/>
<text stroke="#fff" stroke-width="0.15" x="591.5" y="365" font-size="16" textLength="23" lengthAdjust="spacingAndGlyphs" fill="#1e1e1e">152</text>
<text stroke="#fff" stroke-width="0.15" x="633.5" y="365" font-size="16" textLength="23" lengthAdjust="spacingAndGlyphs" fill="#1e1e1e">262</text>
<line x1="618" y1="362" x2="618" y2="454"/>
<line x1="671.6" y1="362" x2="671.6" y2="448.7"/>
<circle cx="618" cy="434" r="12.5" stroke-width="1.1"/>
<circle cx="618" cy="434" r="17.5" stroke-width="1.1" stroke-dasharray="5,2.2"/>
<circle cx="671.6" cy="428.7" r="17.7" stroke-width="1.1" stroke-dasharray="5,2.2"/>
<polygon points="662.7,419.6 680.7,419.6 680.7,437.3 662.7,437.3"/>
<line x1="662.7" y1="437.3" x2="662.7" y2="499.7"/>
<line x1="680.7" y1="437.3" x2="680.7" y2="499.7"/>
<line x1="662.7" y1="492.7" x2="714" y2="492.7"/>
<polygon points="662.7,492.7 668.2,491.2 668.2,494.2" fill="#262626" stroke="none"/>
<polygon points="680.7,492.7 675.2,491.2 675.2,494.2" fill="#262626" stroke="none"/>
<polygon points="689,481 697.5,481 697.5,490.5 689,490.5" stroke-width="1.1"/>
<text stroke="#fff" stroke-width="0.15" x="698.5" y="491" font-size="16" textLength="14.5" lengthAdjust="spacingAndGlyphs" fill="#1e1e1e">90</text>
<polyline points="586.7,413.3 582,418 581,422 581,450 582,454 586.7,457"/>
<line x1="580" y1="414" x2="586.7" y2="413.3"/>
<line x1="580" y1="456.5" x2="586.7" y2="457"/>
<polyline points="718,413.5 723,418.5 723.3,422 723.3,448 723,451 718,455"/>
<line x1="718" y1="413.5" x2="725" y2="414"/>
<line x1="718" y1="455" x2="725" y2="455.5"/>
<line x1="718" y1="462.7" x2="719.5" y2="462"/>
<polygon points="587.3,408.7 598,408.7 598,412 596,412.5 596,415 598,415.5 598,421.3 593,421.3 587.3,415"/>
<polygon points="684.7,408.7 694.7,408.7 694.7,413 692.5,413.5 692.5,415.5 694.7,416 694.7,421.3 689,421.3 684.7,418"/>
<text stroke="#fff" stroke-width="0.15" x="510.4" y="331.7" font-size="12" textLength="30.4" lengthAdjust="spacingAndGlyphs" fill="#1e1e1e">4−ϕ4</text>
<text stroke="#fff" stroke-width="0.15" x="496" y="349.3" font-size="12" textLength="37.6" lengthAdjust="spacingAndGlyphs" fill="#1e1e1e">Holes for</text>
<text stroke="#fff" stroke-width="0.15" x="496" y="360.9" font-size="12" textLength="66.5" lengthAdjust="spacingAndGlyphs" fill="#1e1e1e">tapping screws</text>
<polyline points="491.6,334.6 565.4,334.6 606,423"/>
<polygon points="606,423 602.8,419.5 605.4,418.3" fill="#262626" stroke="none"/>
<text stroke="#fff" stroke-width="0.15" x="714.6" y="341.9" font-size="12" textLength="30.4" lengthAdjust="spacingAndGlyphs" fill="#1e1e1e">4−ϕ4</text>
<text stroke="#fff" stroke-width="0.15" x="698.6" y="359.2" font-size="12" textLength="39.1" lengthAdjust="spacingAndGlyphs" fill="#1e1e1e">Holes for</text>
<text stroke="#fff" stroke-width="0.15" x="698.6" y="370.8" font-size="12" textLength="68.1" lengthAdjust="spacingAndGlyphs" fill="#1e1e1e">tapping screws</text>
<polyline points="761,345.3 694.3,345.3 685.6,415.7"/>
<polygon points="685.6,415.7 684.8,411.1 687.5,411.4" fill="#262626" stroke="none"/>
<text stroke="#fff" stroke-width="0.15" x="532" y="386.7" font-size="16" textLength="32" lengthAdjust="spacingAndGlyphs" fill="#1e1e1e">ϕ124</text>
<polyline points="530,388.8 567,388.8 607.3,426"/>
<polygon points="607.3,426 603,424 604.9,421.9" fill="#262626" stroke="none"/>
<text stroke="#fff" stroke-width="0.15" x="530.7" y="467.8" font-size="16" textLength="33.3" lengthAdjust="spacingAndGlyphs" fill="#1e1e1e">ϕ170</text>
<polyline points="530,469.3 564,469.3 601.6,441.8"/>
<polygon points="601.6,441.8 598.8,445.6 597.1,443.3" fill="#262626" stroke="none"/>
<text stroke="#fff" stroke-width="0.15" x="724.7" y="478" font-size="16" textLength="31.9" lengthAdjust="spacingAndGlyphs" fill="#1e1e1e">ϕ170</text>
<polyline points="767.5,479.4 720.4,479.4 686,440.5"/>
<polygon points="686,440.5 690,442.9 687.9,444.8" fill="#262626" stroke="none"/>
<text stroke="#fff" stroke-width="0.15" x="546.6" y="493.9" font-size="12" textLength="20.3" lengthAdjust="spacingAndGlyphs" fill="#1e1e1e">Hole</text>
<line x1="544" y1="495.3" x2="568.3" y2="495.3"/>
<line x1="568.3" y1="495.3" x2="606.7" y2="441.5"/>
<line x1="568.3" y1="495.3" x2="665.5" y2="432.5"/>
<polygon points="606.7,441.5 605.2,446 602.9,444.3" fill="#262626" stroke="none"/>
<polygon points="665.5,432.5 662.5,436.1 661,433.8" fill="#262626" stroke="none"/>
<line x1="600.2" y1="497" x2="618.5" y2="446"/>
<line x1="635" y1="495" x2="670" y2="447"/>
<text stroke="#fff" stroke-width="0.15" x="594.4" y="514" font-size="20" textLength="10.1" lengthAdjust="spacingAndGlyphs" fill="#1e1e1e">F</text>
<text stroke="#fff" stroke-width="0.15" x="626.2" y="510" font-size="20" textLength="13.1" lengthAdjust="spacingAndGlyphs" fill="#1e1e1e">G</text>
<text stroke="#fff" stroke-width="0.15" x="608.9" y="535.9" font-size="22" textLength="52.1" lengthAdjust="spacingAndGlyphs" fill="#1e1e1e">View M</text>
<line x1="606" y1="540.2" x2="668" y2="540.2"/>
<polygon points="545.6,149.4 764.4,149.4 764.4,275 545.6,275"/>
<text stroke="#fff" stroke-width="0.15" x="557" y="145" font-size="12" textLength="38" lengthAdjust="spacingAndGlyphs" fill="#1e1e1e">(Case 2)</text>
<text stroke="#fff" stroke-width="0.15" x="618" y="145" font-size="12" textLength="86" lengthAdjust="spacingAndGlyphs" fill="#1e1e1e">From bottom of unit</text>
<line x1="624" y1="164" x2="741" y2="164"/>
<line x1="626" y1="164" x2="631.4" y2="158" stroke-width="1.2"/>
<line x1="631.3" y1="164" x2="636.7" y2="158" stroke-width="1.2"/>
<line x1="636.6" y1="164" x2="642" y2="158" stroke-width="1.2"/>
<line x1="641.9" y1="164" x2="647.3" y2="158" stroke-width="1.2"/>
<line x1="647.2" y1="164" x2="652.6" y2="158" stroke-width="1.2"/>
<line x1="652.5" y1="164" x2="657.9" y2="158" stroke-width="1.2"/>
<line x1="657.8" y1="164" x2="663.2" y2="158" stroke-width="1.2"/>
<line x1="663.1" y1="164" x2="668.5" y2="158" stroke-width="1.2"/>
<line x1="668.4" y1="164" x2="673.8" y2="158" stroke-width="1.2"/>
<line x1="673.7" y1="164" x2="679.1" y2="158" stroke-width="1.2"/>
<line x1="679" y1="164" x2="684.4" y2="158" stroke-width="1.2"/>
<line x1="684.3" y1="164" x2="689.7" y2="158" stroke-width="1.2"/>
<line x1="689.6" y1="164" x2="695" y2="158" stroke-width="1.2"/>
<line x1="694.9" y1="164" x2="700.3" y2="158" stroke-width="1.2"/>
<line x1="700.2" y1="164" x2="705.6" y2="158" stroke-width="1.2"/>
<line x1="646" y1="168.4" x2="741" y2="168.4"/>
<polygon points="646,168.4 684,168.4 684,214 646,214"/>
<line x1="644.5" y1="170" x2="644.5" y2="213" stroke-width="1.2"/>
<line x1="684.8" y1="170" x2="684.8" y2="213" stroke-width="1.2"/>
<polygon points="651,168.4 683,168.4 683,242 651,242"/>
<line x1="651" y1="168.4" x2="683" y2="242"/>
<line x1="683" y1="168.4" x2="651" y2="242"/>
<polygon points="663,214 680,214 680,218 663,218"/>
<line x1="646" y1="214" x2="745" y2="214"/>
<line x1="651" y1="242" x2="727" y2="242"/>
<line x1="723" y1="168.4" x2="723" y2="242"/>
<polygon points="723,168.4 721.5,173.9 724.5,173.9" fill="#262626" stroke="none"/>
<polygon points="723,242 721.5,236.5 724.5,236.5" fill="#262626" stroke="none"/>
<text stroke="#fff" stroke-width="0.15" transform="translate(721.5,206) rotate(-90)" font-size="13" textLength="18" lengthAdjust="spacingAndGlyphs" fill="#1e1e1e">1300</text>
<line x1="739" y1="158" x2="739" y2="194"/>
<polygon points="739,164 737.5,158.5 740.5,158.5" fill="#262626" stroke="none"/>
<polygon points="739,168.4 737.5,173.9 740.5,173.9" fill="#262626" stroke="none"/>
<text stroke="#fff" stroke-width="0.15" transform="translate(737.5,190) rotate(-90)" font-size="13" textLength="13" lengthAdjust="spacingAndGlyphs" fill="#1e1e1e">100</text>
<text stroke="#fff" stroke-width="0.15" transform="translate(748.5,202) rotate(-90)" font-size="13" textLength="30" lengthAdjust="spacingAndGlyphs" fill="#1e1e1e">or more</text>
<line x1="741" y1="214" x2="741" y2="262.6"/>
<polygon points="741,214 739.5,219.5 742.5,219.5" fill="#262626" stroke="none"/>
<polygon points="741,262.6 739.5,257.1 742.5,257.1" fill="#262626" stroke="none"/>
<text stroke="#fff" stroke-width="0.15" transform="translate(739.5,245) rotate(-90)" font-size="13" textLength="14" lengthAdjust="spacingAndGlyphs" fill="#1e1e1e">600</text>
<text stroke="#fff" stroke-width="0.15" transform="translate(750.5,251) rotate(-90)" font-size="13" textLength="28" lengthAdjust="spacingAndGlyphs" fill="#1e1e1e">or more</text>
<line x1="624" y1="262.6" x2="744" y2="262.6"/>
<line x1="626" y1="268.6" x2="631.4" y2="262.6" stroke-width="1.2"/>
<line x1="631.3" y1="268.6" x2="636.7" y2="262.6" stroke-width="1.2"/>
<line x1="636.6" y1="268.6" x2="642" y2="262.6" stroke-width="1.2"/>
<line x1="641.9" y1="268.6" x2="647.3" y2="262.6" stroke-width="1.2"/>
<line x1="647.2" y1="268.6" x2="652.6" y2="262.6" stroke-width="1.2"/>
<line x1="652.5" y1="268.6" x2="657.9" y2="262.6" stroke-width="1.2"/>
<line x1="657.8" y1="268.6" x2="663.2" y2="262.6" stroke-width="1.2"/>
<line x1="663.1" y1="268.6" x2="668.5" y2="262.6" stroke-width="1.2"/>
<line x1="668.4" y1="268.6" x2="673.8" y2="262.6" stroke-width="1.2"/>
<line x1="673.7" y1="268.6" x2="679.1" y2="262.6" stroke-width="1.2"/>
<line x1="679" y1="268.6" x2="684.4" y2="262.6" stroke-width="1.2"/>
<line x1="684.3" y1="268.6" x2="689.7" y2="262.6" stroke-width="1.2"/>
<line x1="689.6" y1="268.6" x2="695" y2="262.6" stroke-width="1.2"/>
<line x1="694.9" y1="268.6" x2="700.3" y2="262.6" stroke-width="1.2"/>
<line x1="700.2" y1="268.6" x2="705.6" y2="262.6" stroke-width="1.2"/>
<text stroke="#fff" stroke-width="0.15" x="659.6" y="254" font-size="13" textLength="14.8" lengthAdjust="spacingAndGlyphs" fill="#1e1e1e">620</text>
<line x1="651" y1="257" x2="683" y2="257"/>
<polygon points="651,257 656.5,255.5 656.5,258.5" fill="#262626" stroke="none"/>
<polygon points="683,257 677.5,255.5 677.5,258.5" fill="#262626" stroke="none"/>
<line x1="651" y1="242" x2="651" y2="261"/>
<line x1="683" y1="242" x2="683" y2="261"/>
<polygon points="625,190.5 630.4,186 630.4,188.5 637,188.5 637,192.5 630.4,192.5 630.4,195" stroke-width="1.1" fill="#fff"/>
<polygon points="692,190.5 697.4,186 697.4,188.5 704,188.5 704,192.5 697.4,192.5 697.4,195" stroke-width="1.1" fill="#fff"/>
<text stroke="#fff" stroke-width="0.15" x="580" y="227" font-size="12" textLength="46" lengthAdjust="spacingAndGlyphs" fill="#1e1e1e">Inspection</text>
<text stroke="#fff" stroke-width="0.15" x="580" y="241.5" font-size="12" textLength="36" lengthAdjust="spacingAndGlyphs" fill="#1e1e1e">opening</text>
<polyline points="578,231 630,231 650,224"/>
<line x1="790.8" y1="196.3" x2="1105.4" y2="196.3" stroke-width="1.2"/>
<line x1="790.8" y1="437.7" x2="1105.4" y2="437.7" stroke-width="1.2"/>
<line x1="790.8" y1="196.3" x2="790.8" y2="437.7" stroke-width="1.2"/>
<line x1="1105.4" y1="196.3" x2="1105.4" y2="437.7" stroke-width="1.2"/>
<line x1="831" y1="196.3" x2="831" y2="437.7" stroke-width="1.2"/>
<line x1="917.6" y1="212.4" x2="917.6" y2="437.7" stroke-width="1.2"/>
<line x1="1011.6" y1="212.4" x2="1011.6" y2="267.3" stroke-width="1.2"/>
<line x1="790.8" y1="212.4" x2="1105.4" y2="212.4" stroke-width="1.2"/>
<line x1="790.8" y1="230.2" x2="1105.4" y2="230.2" stroke-width="1.2"/>
<line x1="790.8" y1="250" x2="1105.4" y2="250" stroke-width="1.2"/>
<line x1="790.8" y1="267.3" x2="1105.4" y2="267.3" stroke-width="1.2"/>
<line x1="790.8" y1="296.4" x2="1105.4" y2="296.4" stroke-width="1.2"/>
<line x1="790.8" y1="326.7" x2="1105.4" y2="326.7" stroke-width="1.2"/>
<line x1="790.8" y1="343.6" x2="1105.4" y2="343.6" stroke-width="1.2"/>
<line x1="790.8" y1="359.9" x2="1105.4" y2="359.9" stroke-width="1.2"/>
<line x1="790.8" y1="390.7" x2="1105.4" y2="390.7" stroke-width="1.2"/>
<line x1="790.8" y1="421.2" x2="1105.4" y2="421.2" stroke-width="1.2"/>
<text stroke="#fff" stroke-width="0.15" x="810.9" y="209.5" font-size="12.3" textLength="32" lengthAdjust="spacingAndGlyphs" text-anchor="middle" fill="#1e1e1e">Symbol</text>
<text stroke="#fff" stroke-width="0.15" x="938.6" y="209.5" font-size="12.3" textLength="33.8" lengthAdjust="spacingAndGlyphs" fill="#1e1e1e">Content</text>
<text stroke="#fff" stroke-width="0.15" x="834.6" y="225.7" font-size="12.3" textLength="25.7" lengthAdjust="spacingAndGlyphs" fill="#1e1e1e">Model</text>
<text stroke="#fff" stroke-width="0.15" x="964.6" y="226" font-size="13" textLength="12.3" lengthAdjust="spacingAndGlyphs" text-anchor="middle" fill="#1e1e1e">60</text>
<text stroke="#fff" stroke-width="0.15" x="1058.5" y="226" font-size="13" textLength="12.3" lengthAdjust="spacingAndGlyphs" text-anchor="middle" fill="#1e1e1e">71</text>
<text stroke="#fff" stroke-width="0.15" x="810.9" y="244.2" font-size="12.3" textLength="6.4" lengthAdjust="spacingAndGlyphs" text-anchor="middle" fill="#1e1e1e">A</text>
<text stroke="#fff" stroke-width="0.15" x="834.6" y="244.2" font-size="12.3" textLength="45.7" lengthAdjust="spacingAndGlyphs" fill="#1e1e1e">Gas piping</text>
<text stroke="#fff" stroke-width="0.15" x="924.4" y="244.5" font-size="12.3" textLength="79.6" lengthAdjust="spacingAndGlyphs" fill="#1e1e1e">ϕ12.7 (1/2") (Flare)</text>
<text stroke="#fff" stroke-width="0.15" x="1015" y="244.5" font-size="12.3" textLength="85" lengthAdjust="spacingAndGlyphs" fill="#1e1e1e">ϕ15.88 (5/8") (Flare)</text>
<text stroke="#fff" stroke-width="0.15" x="810.9" y="263.3" font-size="12.3" textLength="6.4" lengthAdjust="spacingAndGlyphs" text-anchor="middle" fill="#1e1e1e">B</text>
<text stroke="#fff" stroke-width="0.15" x="834.6" y="263.3" font-size="12.3" textLength="54.4" lengthAdjust="spacingAndGlyphs" fill="#1e1e1e">Liquid piping</text>
<text stroke="#fff" stroke-width="0.15" x="924.4" y="263.5" font-size="12.3" textLength="79.6" lengthAdjust="spacingAndGlyphs" fill="#1e1e1e">ϕ6.35 (1/4") (Flare)</text>
<text stroke="#fff" stroke-width="0.15" x="1017" y="263.5" font-size="12.3" textLength="81.5" lengthAdjust="spacingAndGlyphs" fill="#1e1e1e">ϕ9.52 (3/8") (Flare)</text>
<text stroke="#fff" stroke-width="0.15" x="810.9" y="285" font-size="12.3" textLength="12.3" lengthAdjust="spacingAndGlyphs" text-anchor="middle" fill="#1e1e1e">C1</text>
<text stroke="#fff" stroke-width="0.15" x="834.6" y="285" font-size="12.3" textLength="50.4" lengthAdjust="spacingAndGlyphs" fill="#1e1e1e">Drain piping</text>
<text stroke="#fff" stroke-width="0.15" x="1011.5" y="285" font-size="12.3" textLength="65.6" lengthAdjust="spacingAndGlyphs" text-anchor="middle" fill="#1e1e1e">VP25 ( O.D.32)</text>
<text stroke="#fff" stroke-width="0.15" x="810.9" y="315.5" font-size="12.3" textLength="12.3" lengthAdjust="spacingAndGlyphs" text-anchor="middle" fill="#1e1e1e">C2</text>
<text stroke="#fff" stroke-width="0.15" x="834.6" y="308.5" font-size="12.3" textLength="50.4" lengthAdjust="spacingAndGlyphs" fill="#1e1e1e">Drain piping</text>
<text stroke="#fff" stroke-width="0.15" x="838" y="322.5" font-size="12.3" textLength="78" lengthAdjust="spacingAndGlyphs" fill="#1e1e1e">(Gravity drainage)</text>
<text stroke="#fff" stroke-width="0.15" x="1011.5" y="315.5" font-size="12.3" textLength="23.5" lengthAdjust="spacingAndGlyphs" text-anchor="middle" fill="#1e1e1e">VP20</text>
<text stroke="#fff" stroke-width="0.15" x="810.9" y="339.5" font-size="12.3" textLength="6.9" lengthAdjust="spacingAndGlyphs" text-anchor="middle" fill="#1e1e1e">D</text>
<text stroke="#fff" stroke-width="0.15" x="834.6" y="339.5" font-size="12.3" textLength="58.4" lengthAdjust="spacingAndGlyphs" fill="#1e1e1e">Hole for wiring</text>
<text stroke="#fff" stroke-width="0.15" x="810.9" y="355.5" font-size="12.3" textLength="6.4" lengthAdjust="spacingAndGlyphs" text-anchor="middle" fill="#1e1e1e">E</text>
<text stroke="#fff" stroke-width="0.15" x="834.6" y="355.5" font-size="12.3" textLength="71.4" lengthAdjust="spacingAndGlyphs" fill="#1e1e1e">Suspension bolts</text>
<text stroke="#fff" stroke-width="0.15" x="1011.5" y="355.5" font-size="12.3" textLength="25.1" lengthAdjust="spacingAndGlyphs" text-anchor="middle" fill="#1e1e1e">(M10)</text>
<text stroke="#fff" stroke-width="0.15" x="810.9" y="379" font-size="12.3" textLength="5.9" lengthAdjust="spacingAndGlyphs" text-anchor="middle" fill="#1e1e1e">F</text>
<text stroke="#fff" stroke-width="0.15" x="834.6" y="372.8" font-size="12.3" textLength="81.4" lengthAdjust="spacingAndGlyphs" fill="#1e1e1e">Outside air opening</text>
<text stroke="#fff" stroke-width="0.15" x="834.6" y="386.5" font-size="12.3" textLength="44.4" lengthAdjust="spacingAndGlyphs" fill="#1e1e1e">for ducting</text>
<text stroke="#fff" stroke-width="0.15" x="1011.5" y="379" font-size="12.3" textLength="79.5" lengthAdjust="spacingAndGlyphs" text-anchor="middle" fill="#1e1e1e">(ϕ150) (Knock out)</text>
<text stroke="#fff" stroke-width="0.15" x="810.9" y="409.5" font-size="12.3" textLength="7.5" lengthAdjust="spacingAndGlyphs" text-anchor="middle" fill="#1e1e1e">G</text>
<text stroke="#fff" stroke-width="0.15" x="834.6" y="402.8" font-size="12.3" textLength="72.9" lengthAdjust="spacingAndGlyphs" fill="#1e1e1e">Air outlet opening</text>
<text stroke="#fff" stroke-width="0.15" x="834.6" y="416.5" font-size="12.3" textLength="44.4" lengthAdjust="spacingAndGlyphs" fill="#1e1e1e">for ducting</text>
<text stroke="#fff" stroke-width="0.15" x="1011.5" y="409.5" font-size="12.3" textLength="79.5" lengthAdjust="spacingAndGlyphs" text-anchor="middle" fill="#1e1e1e">(ϕ125) (Knock out)</text>
<text stroke="#fff" stroke-width="0.15" x="810.9" y="434" font-size="12.3" textLength="6.9" lengthAdjust="spacingAndGlyphs" text-anchor="middle" fill="#1e1e1e">H</text>
<text stroke="#fff" stroke-width="0.15" x="834.6" y="434" font-size="12.3" textLength="79.9" lengthAdjust="spacingAndGlyphs" fill="#1e1e1e">Inspection opening</text>
<text stroke="#fff" stroke-width="0.15" x="1011.5" y="434" font-size="12.3" textLength="44" lengthAdjust="spacingAndGlyphs" text-anchor="middle" fill="#1e1e1e">(450×450)</text>
<text stroke="#fff" stroke-width="0.15" x="789.6" y="452" font-size="12.3" textLength="316.4" lengthAdjust="spacingAndGlyphs" fill="#1e1e1e">Note (1)  The model name label is attached on the lid of the control box.</text>
<polygon points="788.8,490.5 958.5,490.5 958.5,507.3 788.8,507.3"/>
<text stroke="#fff" stroke-width="0.15" x="801.7" y="502.8" font-size="12" textLength="146.3" lengthAdjust="spacingAndGlyphs" fill="#1e1e1e">Space for installation and service</text>
<text stroke="#fff" stroke-width="0.15" x="793.3" y="521.3" font-size="12" textLength="305.2" lengthAdjust="spacingAndGlyphs" fill="#1e1e1e">Select either of two cases to keep space for installation and services.</text>
<text stroke="#fff" stroke-width="0.15" x="799.3" y="536.7" font-size="12" textLength="40.2" lengthAdjust="spacingAndGlyphs" fill="#1e1e1e">(Case 1)</text>
<text stroke="#fff" stroke-width="0.15" x="861.2" y="536.7" font-size="12" textLength="72.8" lengthAdjust="spacingAndGlyphs" fill="#1e1e1e">From side of unit</text>
<polygon points="788.8,541.3 1174.8,541.3 1174.8,805.2 788.8,805.2" stroke-width="1.2"/>
<line x1="840.3" y1="555.4" x2="943.6" y2="555.4"/>
<line x1="842" y1="555.4" x2="847" y2="549.9" stroke-width="1.2"/>
<line x1="847" y1="555.4" x2="852" y2="549.9" stroke-width="1.2"/>
<line x1="852" y1="555.4" x2="857" y2="549.9" stroke-width="1.2"/>
<line x1="857" y1="555.4" x2="862" y2="549.9" stroke-width="1.2"/>
<line x1="862" y1="555.4" x2="867" y2="549.9" stroke-width="1.2"/>
<line x1="867" y1="555.4" x2="872" y2="549.9" stroke-width="1.2"/>
<line x1="872" y1="555.4" x2="877" y2="549.9" stroke-width="1.2"/>
<line x1="877" y1="555.4" x2="882" y2="549.9" stroke-width="1.2"/>
<line x1="882" y1="555.4" x2="887" y2="549.9" stroke-width="1.2"/>
<line x1="887" y1="555.4" x2="892" y2="549.9" stroke-width="1.2"/>
<line x1="892" y1="555.4" x2="897" y2="549.9" stroke-width="1.2"/>
<line x1="897" y1="555.4" x2="902" y2="549.9" stroke-width="1.2"/>
<line x1="902" y1="555.4" x2="907" y2="549.9" stroke-width="1.2"/>
<line x1="907" y1="555.4" x2="912" y2="549.9" stroke-width="1.2"/>
<line x1="912" y1="555.4" x2="917" y2="549.9" stroke-width="1.2"/>
<polygon points="862.1,560.3 899.2,560.3 899.2,604.7 862.1,604.7"/>
<line x1="860.8" y1="562" x2="860.8" y2="603.7" stroke-width="1.7"/>
<line x1="900.5" y1="562" x2="900.5" y2="603.7" stroke-width="1.7"/>
<polygon points="878.9,605.6 895.3,605.6 895.3,609.9 878.9,609.9"/>
<polygon points="841.2,582 846.4,576.7 846.4,579.6 852.8,579.6 852.8,584.4 846.4,584.4 846.4,587.3" stroke-width="1.1" fill="#fff"/>
<polygon points="908.8,582 914,576.7 914,579.6 920.4,579.6 920.4,584.4 914,584.4 914,587.3" stroke-width="1.1" fill="#fff"/>
<defs><pattern id="hp" patternUnits="userSpaceOnUse" width="4.2" height="4.2" patternTransform="rotate(-45)"><line x1="0" y1="0" x2="0" y2="4.2" stroke="#333" stroke-width="1"/></pattern><pattern id="hp2" patternUnits="userSpaceOnUse" width="3.2" height="3.2" patternTransform="rotate(-45)"><line x1="0" y1="0" x2="0" y2="3.2" stroke="#333" stroke-width="0.9"/></pattern><pattern id="xp" patternUnits="userSpaceOnUse" width="3" height="3"><path d="M0,0 L3,3 M3,0 L0,3" stroke="#333" stroke-width="0.7"/></pattern></defs>
<path d="M862.5,609.9 H898.2 V665.5 H862.5 Z M869.2,618.2 V638.5 H890.5 V618.2 Z" fill="url(#hp)" fill-rule="evenodd" stroke="none"/>
<path d="M862.5,605.6 H878.9 V609.9 H895.3 V605.6 H898.2 V609.9 H862.5 Z" fill="url(#hp)" stroke="none"/>
<line x1="862.5" y1="605.6" x2="862.5" y2="665.5"/>
<line x1="898.2" y1="605.6" x2="898.2" y2="688.6"/>
<polygon points="869.2,618.2 890.5,618.2 890.5,638.5 869.2,638.5"/>
<line x1="869.2" y1="618.2" x2="890.5" y2="638.5"/>
<line x1="890.5" y1="618.2" x2="869.2" y2="638.5"/>
<line x1="891.8" y1="618.2" x2="891.8" y2="688.6"/>
<line x1="862" y1="605.6" x2="953.2" y2="605.6"/>
<line x1="890.5" y1="617.6" x2="936.8" y2="617.6"/>
<line x1="840.3" y1="665.5" x2="953.2" y2="665.5"/>
<line x1="842" y1="671.5" x2="847.4" y2="665.5" stroke-width="1.2"/>
<line x1="847" y1="671.5" x2="852.4" y2="665.5" stroke-width="1.2"/>
<line x1="852" y1="671.5" x2="857.4" y2="665.5" stroke-width="1.2"/>
<line x1="857" y1="671.5" x2="862.4" y2="665.5" stroke-width="1.2"/>
<line x1="862" y1="671.5" x2="867.4" y2="665.5" stroke-width="1.2"/>
<line x1="867" y1="671.5" x2="872.4" y2="665.5" stroke-width="1.2"/>
<line x1="872" y1="671.5" x2="877.4" y2="665.5" stroke-width="1.2"/>
<line x1="877" y1="671.5" x2="882.4" y2="665.5" stroke-width="1.2"/>
<line x1="882" y1="671.5" x2="887.4" y2="665.5" stroke-width="1.2"/>
<line x1="887" y1="671.5" x2="892.4" y2="665.5" stroke-width="1.2"/>
<line x1="892" y1="671.5" x2="897.4" y2="665.5" stroke-width="1.2"/>
<line x1="897" y1="671.5" x2="902.4" y2="665.5" stroke-width="1.2"/>
<line x1="902" y1="671.5" x2="907.4" y2="665.5" stroke-width="1.2"/>
<line x1="907" y1="671.5" x2="912.4" y2="665.5" stroke-width="1.2"/>
<line x1="912" y1="671.5" x2="917.4" y2="665.5" stroke-width="1.2"/>
<line x1="940.7" y1="548.7" x2="940.7" y2="594"/>
<polygon points="940.7,555.4 939.2,549.9 942.2,549.9" fill="#262626" stroke="none"/>
<polygon points="940.7,560.3 939.2,565.8 942.2,565.8" fill="#262626" stroke="none"/>
<line x1="899.2" y1="560.3" x2="943.6" y2="560.3"/>
<text stroke="#fff" stroke-width="0.15" transform="translate(937.8,581.5) rotate(-90)" font-size="13" textLength="12.5" lengthAdjust="spacingAndGlyphs" fill="#1e1e1e">100</text>
<text stroke="#fff" stroke-width="0.15" transform="translate(949.3,592.1) rotate(-90)" font-size="13" textLength="29.9" lengthAdjust="spacingAndGlyphs" fill="#1e1e1e">or more</text>
<line x1="951.3" y1="605.6" x2="951.3" y2="665.5"/>
<polygon points="951.3,605.6 949.8,611.1 952.8,611.1" fill="#262626" stroke="none"/>
<polygon points="951.3,665.5 949.8,660 952.8,660" fill="#262626" stroke="none"/>
<text stroke="#fff" stroke-width="0.15" transform="translate(948.4,659.7) rotate(-90)" font-size="13" textLength="51.2" lengthAdjust="spacingAndGlyphs" fill="#1e1e1e">1000  or more</text>
<line x1="932.5" y1="599.8" x2="932.5" y2="650"/>
<polygon points="932.5,605.6 931,600.1 934,600.1" fill="#262626" stroke="none"/>
<polygon points="932.5,617.6 931,623.1 934,623.1" fill="#262626" stroke="none"/>
<text stroke="#fff" stroke-width="0.15" transform="translate(915.6,647.1) rotate(-90)" font-size="13" textLength="19.3" lengthAdjust="spacingAndGlyphs" fill="#1e1e1e">150–</text>
<text stroke="#fff" stroke-width="0.15" transform="translate(930,645.2) rotate(-90)" font-size="13" textLength="14.5" lengthAdjust="spacingAndGlyphs" fill="#1e1e1e">200</text>
<line x1="884.7" y1="685.8" x2="946.4" y2="685.8"/>
<polygon points="891.8,685.8 886.3,684.3 886.3,687.3" fill="#262626" stroke="none"/>
<polygon points="898.2,685.8 903.7,684.3 903.7,687.3" fill="#262626" stroke="none"/>
<text stroke="#fff" stroke-width="0.15" x="907.8" y="683.8" font-size="12" textLength="33.8" lengthAdjust="spacingAndGlyphs" fill="#1e1e1e">100−200</text>
<text stroke="#fff" stroke-width="0.15" x="827.5" y="633.6" font-size="20" textLength="11" lengthAdjust="spacingAndGlyphs" fill="#1e1e1e">H</text>
<line x1="844.1" y1="623" x2="869.2" y2="636.5"/>
<text stroke="#fff" stroke-width="0.15" x="809.8" y="656.8" font-size="12" textLength="36.7" lengthAdjust="spacingAndGlyphs" fill="#1e1e1e">Note (a)</text>
<polyline points="808,659.7 850.9,659.7 863.4,650"/>
<polygon points="863.4,650 859.4,648.7 859.4,651.3" fill="#262626" stroke="none"/>
<text stroke="#fff" stroke-width="0.15" x="1027.7" y="558.8" font-size="12" textLength="37.5" lengthAdjust="spacingAndGlyphs" fill="#1e1e1e">Note (b)</text>
<polyline points="1023.2,561.8 1069,561.8 1078,585.8"/>
<line x1="1021.7" y1="575.7" x2="1130.5" y2="575.7"/>
<line x1="1023" y1="575.7" x2="1029.3" y2="568.7" stroke-width="1.2"/>
<line x1="1032" y1="575.7" x2="1038.3" y2="568.7" stroke-width="1.2"/>
<line x1="1041" y1="575.7" x2="1047.3" y2="568.7" stroke-width="1.2"/>
<line x1="1050" y1="575.7" x2="1056.3" y2="568.7" stroke-width="1.2"/>
<line x1="1059" y1="575.7" x2="1065.3" y2="568.7" stroke-width="1.2"/>
<line x1="1068" y1="575.7" x2="1074.3" y2="568.7" stroke-width="1.2"/>
<line x1="1077" y1="575.7" x2="1083.3" y2="568.7" stroke-width="1.2"/>
<line x1="1086" y1="575.7" x2="1092.3" y2="568.7" stroke-width="1.2"/>
<line x1="1095" y1="575.7" x2="1101.3" y2="568.7" stroke-width="1.2"/>
<line x1="1104" y1="575.7" x2="1110.3" y2="568.7" stroke-width="1.2"/>
<line x1="1021.7" y1="609.8" x2="1130.5" y2="609.8"/>
<line x1="1023" y1="616.8" x2="1029.3" y2="609.8" stroke-width="1.2"/>
<line x1="1032" y1="616.8" x2="1038.3" y2="609.8" stroke-width="1.2"/>
<line x1="1041" y1="616.8" x2="1047.3" y2="609.8" stroke-width="1.2"/>
<line x1="1050" y1="616.8" x2="1056.3" y2="609.8" stroke-width="1.2"/>
<line x1="1059" y1="616.8" x2="1065.3" y2="609.8" stroke-width="1.2"/>
<line x1="1068" y1="616.8" x2="1074.3" y2="609.8" stroke-width="1.2"/>
<line x1="1077" y1="616.8" x2="1083.3" y2="609.8" stroke-width="1.2"/>
<line x1="1086" y1="616.8" x2="1092.3" y2="609.8" stroke-width="1.2"/>
<line x1="1095" y1="616.8" x2="1101.3" y2="609.8" stroke-width="1.2"/>
<line x1="1104" y1="616.8" x2="1110.3" y2="609.8" stroke-width="1.2"/>
<line x1="1048.8" y1="582.4" x2="1130.5" y2="582.4"/>
<line x1="1048.8" y1="602.7" x2="1130.5" y2="602.7"/>
<polygon points="1048.8,582.4 1096,582.4 1096,602.7 1048.8,602.7"/>
<rect x="1069" y="582.8" width="25.5" height="19.5" fill="url(#xp)" stroke="#333" stroke-width="1.2"/>
<polyline points="1048.8,586.5 1047.2,587 1047.2,598 1048.8,598.5"/>
<polyline points="1096,586.5 1097.5,587 1097.5,598 1096,598.5"/>
<polyline points="1057,583.5 1066,583.5 1068,586 1068,600.5 1058,600.5 1056,598 1056,592 1060,589 1057,586" stroke-width="0.9"/>
<line x1="1060" y1="596.5" x2="1066" y2="596.5" stroke-width="0.9"/>
<polygon points="1024,592.9 1030.8,587.3 1030.8,590.4 1039,590.4 1039,595.4 1030.8,595.4 1030.8,598.5" stroke-width="1.1" fill="#fff"/>
<polygon points="1104.2,592.9 1110.8,587.3 1110.8,590.4 1118.8,590.4 1118.8,595.4 1110.8,595.4 1110.8,598.5" stroke-width="1.1" fill="#fff"/>
<text stroke="#fff" stroke-width="0.15" x="989.5" y="582.8" font-size="12.5" textLength="19.5" lengthAdjust="spacingAndGlyphs" fill="#1e1e1e">Slab</text>
<polyline points="984.2,586.2 1015,586.2 1027.8,576"/>
<polygon points="1027.8,576 1023.2,574.5 1023.2,577.5" fill="#262626" stroke="none"/>
<text stroke="#fff" stroke-width="0.15" x="979.8" y="627" font-size="12.5" textLength="30" lengthAdjust="spacingAndGlyphs" fill="#1e1e1e">Ceiling</text>
<polyline points="974.5,631.2 1015.8,631.2 1031.5,610.5"/>
<polygon points="1031.5,610.5 1027,609 1027,612" fill="#262626" stroke="none"/>
<line x1="1068.2" y1="602.7" x2="1068.2" y2="636"/>
<line x1="1094.5" y1="602.7" x2="1094.5" y2="636"/>
<line x1="1068.2" y1="631.2" x2="1094.5" y2="631.2"/>
<polygon points="1068.2,631.2 1073.8,629.7 1073.8,632.7" fill="#262626" stroke="none"/>
<polygon points="1094.5,631.2 1089,629.7 1089,632.7" fill="#262626" stroke="none"/>
<text stroke="#fff" stroke-width="0.15" x="1074.2" y="628.5" font-size="12" textLength="15" lengthAdjust="spacingAndGlyphs" fill="#1e1e1e">370</text>
<line x1="1126.8" y1="544.5" x2="1126.8" y2="588"/>
<polygon points="1126.8,575.7 1125.2,570.2 1128.2,570.2" fill="#262626" stroke="none"/>
<polygon points="1126.8,582.4 1125.2,587.9 1128.2,587.9" fill="#262626" stroke="none"/>
<text stroke="#fff" stroke-width="0.15" transform="translate(1124.5,567) rotate(-90)" font-size="13" textLength="9.8" lengthAdjust="spacingAndGlyphs" fill="#1e1e1e">20</text>
<text stroke="#fff" stroke-width="0.15" transform="translate(1136.5,573.8) rotate(-90)" font-size="13" textLength="29.2" lengthAdjust="spacingAndGlyphs" fill="#1e1e1e">or more</text>
<line x1="1126.8" y1="596.2" x2="1126.8" y2="640.5"/>
<polygon points="1126.8,602.7 1125.2,597.2 1128.2,597.2" fill="#262626" stroke="none"/>
<polygon points="1126.8,609.8 1125.2,615.2 1128.2,615.2" fill="#262626" stroke="none"/>
<text stroke="#fff" stroke-width="0.15" transform="translate(1124.5,631.5) rotate(-90)" font-size="13" textLength="9.8" lengthAdjust="spacingAndGlyphs" fill="#1e1e1e">20</text>
<text stroke="#fff" stroke-width="0.15" transform="translate(1136.5,640.5) rotate(-90)" font-size="13" textLength="30" lengthAdjust="spacingAndGlyphs" fill="#1e1e1e">or more</text>
<text stroke="#fff" stroke-width="0.15" x="793.3" y="712.8" font-size="12" textLength="203.7" lengthAdjust="spacingAndGlyphs" fill="#1e1e1e">Notes (a)  There must not be obstacle to draw</text>
<text stroke="#fff" stroke-width="0.15" x="841.3" y="725.8" font-size="12" textLength="50.7" lengthAdjust="spacingAndGlyphs" fill="#1e1e1e">out fan unit.</text>
<text stroke="#fff" stroke-width="0.15" x="824.8" y="744.3" font-size="12" textLength="121.5" lengthAdjust="spacingAndGlyphs" fill="#1e1e1e">(b)  Install refrigerant pipes,</text>
<text stroke="#fff" stroke-width="0.15" x="841.3" y="757.3" font-size="12" textLength="120" lengthAdjust="spacingAndGlyphs" fill="#1e1e1e">drain pipe,and wiring so as</text>
<text stroke="#fff" stroke-width="0.15" x="841.3" y="769.5" font-size="12" textLength="51.2" lengthAdjust="spacingAndGlyphs" fill="#1e1e1e">not to cross</text>
<rect x="892.8" y="761" width="21" height="8" fill="url(#xp)" stroke="#333" stroke-width="0.9"/>
<text stroke="#fff" stroke-width="0.15" x="916.5" y="769.5" font-size="12" textLength="58.8" lengthAdjust="spacingAndGlyphs" fill="#1e1e1e">marked area.</text>
<text stroke="#fff" stroke-width="0.15" x="824.8" y="784.2" font-size="12" textLength="291.9" lengthAdjust="spacingAndGlyphs" fill="#1e1e1e">(c)  The case that pipes are installed to upper (bottom) of fan unit,</text>
<text stroke="#fff" stroke-width="0.15" x="843" y="796.8" font-size="12" textLength="248.5" lengthAdjust="spacingAndGlyphs" fill="#1e1e1e">keep space of 60mm or more to upper (bottom)  of unit.</text>
<text stroke="#fff" stroke-width="0.15" x="1015.2" y="654" font-size="12" textLength="33.6" lengthAdjust="spacingAndGlyphs" fill="#1e1e1e">Note (c)</text>
<polyline points="1011,656.8 1051.3,656.8 1081,682"/>
<text stroke="#fff" stroke-width="0.15" x="1011.7" y="675" font-size="12" textLength="30.8" lengthAdjust="spacingAndGlyphs" fill="#1e1e1e">Fan unit</text>
<polyline points="1007.5,677.8 1049.5,677.8 1088,699.5"/>
<text stroke="#fff" stroke-width="0.15" x="1110.8" y="759" font-size="12" textLength="36.7" lengthAdjust="spacingAndGlyphs" fill="#1e1e1e">Note (a)</text>
<polyline points="1151,762.5 1105.5,762.5 1095,748.5"/>
<polygon points="1025.9,764.2 1094.3,764.2 1130,705 1062.2,705" fill="url(#hp2)" stroke="none"/>
<polyline points="1062.2,705 1025.9,764.2 1094.3,764.2 1125,715" stroke-width="1.1"/>
<polygon points="1056.8,678 1064.5,705 1070,705 1073,688" fill="#fff"/>
<line x1="1059" y1="680" x2="1065.6" y2="704" stroke-width="0.9"/>
<polygon points="1145.6,687.2 1125,715 1119,715 1130,688" fill="#fff"/>
<polyline points="1128,689 1133.5,700 1141,689" stroke-width="0.9"/>
<circle cx="1112.7" cy="701.2" r="7.7" stroke-width="1.1" fill="#fff"/>
<circle cx="1112.7" cy="701.2" r="5" stroke-width="1.0"/>
<path d="M1094,717 A11,11 0 0 1 1108,722 L1102,734 A11,11 0 0 0 1092,716.9 Z" stroke-width="1.1" fill="#fff"/>
<circle cx="1091.8" cy="727.9" r="11" stroke-width="1.2" fill="#fff"/>
<circle cx="1091.8" cy="727.9" r="6.3" stroke-width="1.1"/>
<polygon points="1056.3,738 1061.4,731 1062.5,737.2" fill="#fff"/>
<polygon points="1061.4,726.2 1065.6,743.1 1074.9,727" fill="#fff"/>
<line x1="1056.3" y1="738" x2="1084" y2="738"/>
<polygon points="1060.5,724.5 1089.3,724.5 1111.8,688.6 1081.9,688.6" stroke-width="1.1" fill="#fff"/>
<line x1="1060.5" y1="726.2" x2="1089.3" y2="726.2" stroke-width="1.3"/>
<polygon points="1074,715.2 1091.8,714.8 1099.4,701.7 1081.7,702.1" stroke-width="1.1"/>
<path d="M1056.8,678 L1066.4,661.6 C1075,659 1090,660 1098,661.6 C1110,663 1122,660.5 1132,662.5 C1141,664.5 1145.6,672 1145.6,679 L1145.6,687.2 L1072.2,687.2 L1072.2,680.9 L1060,680 Z" stroke-width="1.1" fill="#fff"/>
<line x1="1057.7" y1="676" x2="1145.6" y2="676" stroke-width="1.3"/>
<rect x="1086.7" y="677" width="32.8" height="3" fill="#222" stroke="none"/>
<line x1="1072.2" y1="680.9" x2="1145.6" y2="680.9" stroke-width="1.1"/>
<line x1="1072.2" y1="687.2" x2="1145.6" y2="687.2" stroke-width="1.1"/>
<line x1="1074" y1="684" x2="1145.6" y2="684" stroke-width="0.8"/>
<path d="M1072.2,687.2 Q1072.2,681 1076,680.9" stroke-width="1.0"/>
<line x1="1099.2" y1="662" x2="1090.5" y2="675.6"/>
<line x1="1127.2" y1="662.5" x2="1119.5" y2="675.6"/>
<line x1="1133" y1="664.5" x2="1125.3" y2="679"/>
<line x1="1136.9" y1="666.4" x2="1128.2" y2="678"/>
<line x1="1068" y1="679" x2="1073" y2="679.5" stroke-width="1.2"/>
<polygon points="1068.1,760 1068.6,750.7 1074,750.7 1079.1,741.4 1084.2,741.4 1079.1,750.7 1085,750.7" stroke-width="1.1" fill="#fff"/>
</g>
</svg>
</body></html>
